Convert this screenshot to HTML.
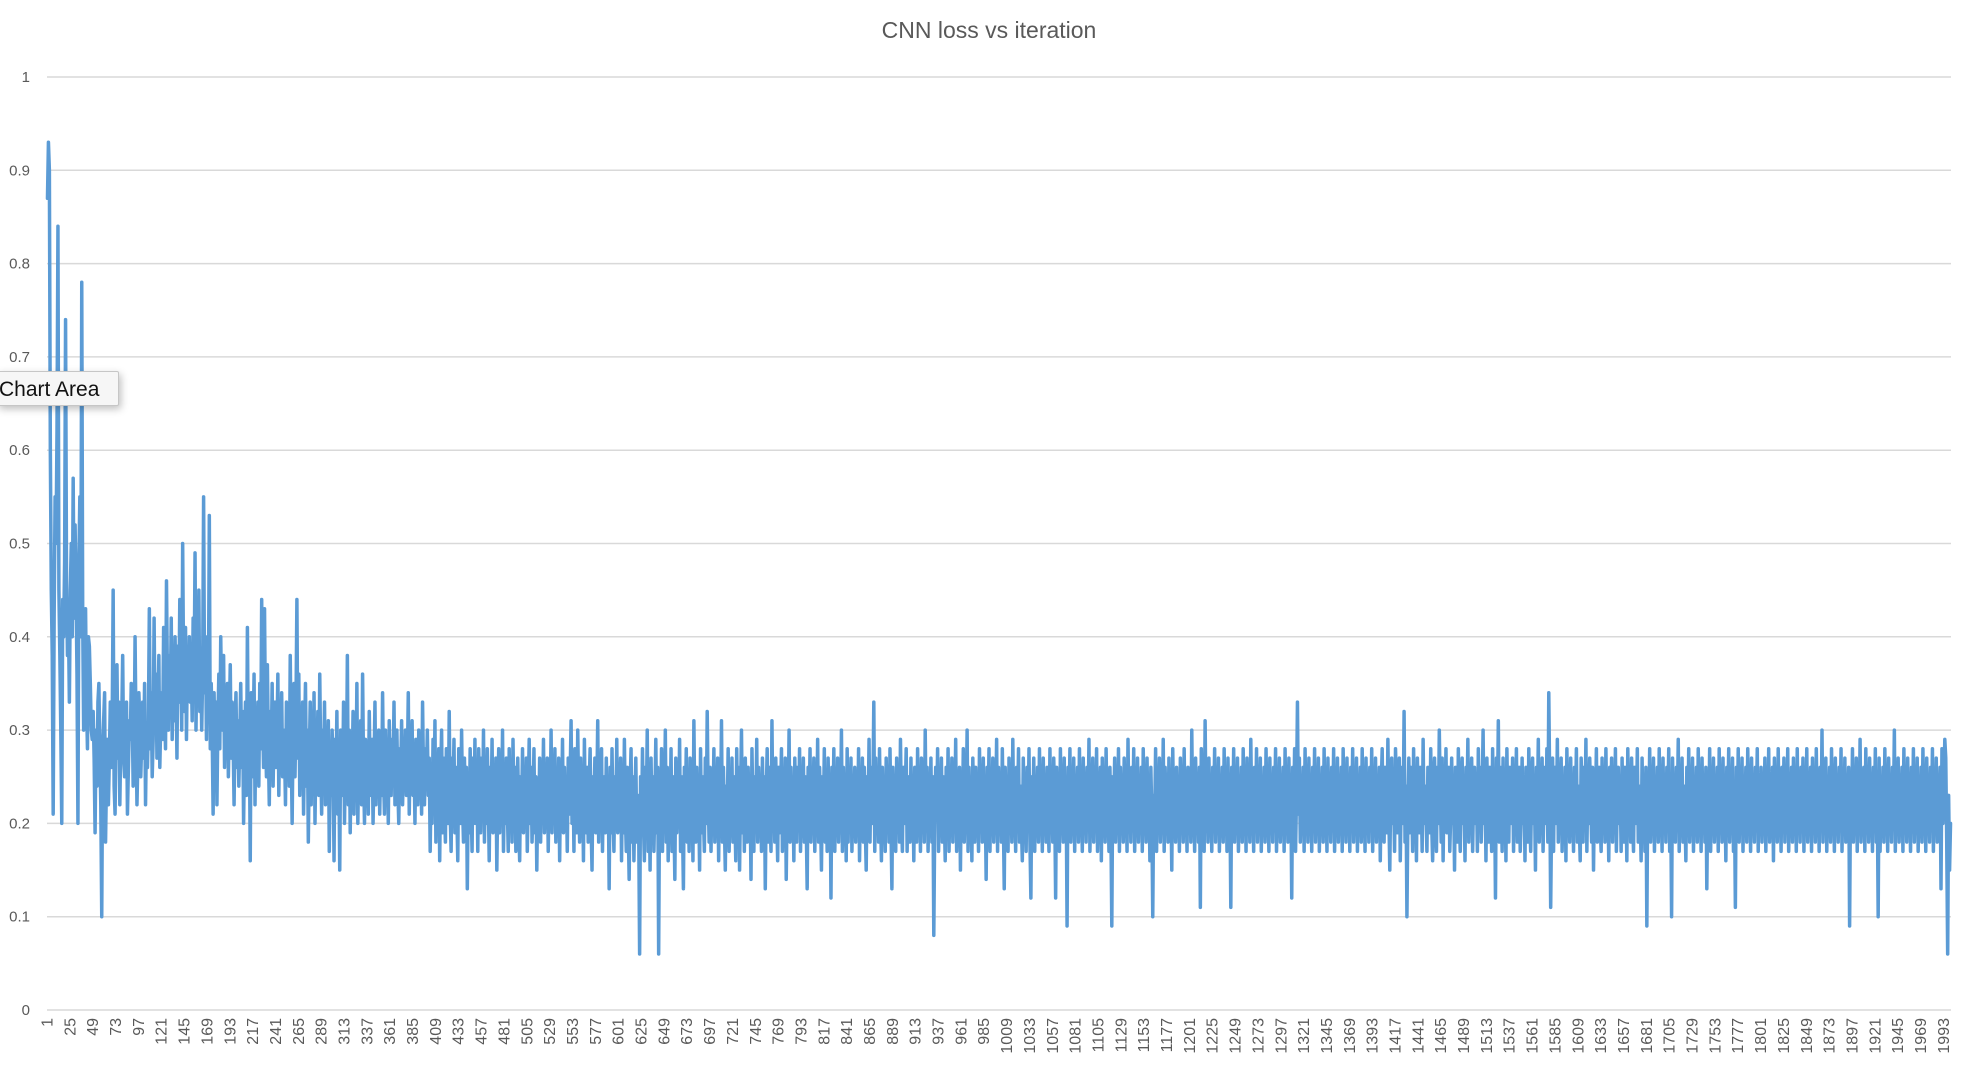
<!DOCTYPE html>
<html><head><meta charset="utf-8"><style>
html,body{margin:0;padding:0;background:#fff;width:1974px;height:1072px;overflow:hidden;font-family:"Liberation Sans",sans-serif}
#tip{position:absolute;left:-3px;top:371px;width:122px;height:35px;background:#f6f6f6;border:1px solid #c6c6c6;border-radius:2px;box-shadow:2px 3px 8px rgba(0,0,0,.25);font-size:21px;line-height:35px;color:#111;padding-left:1px;box-sizing:border-box}
</style></head><body>
<svg id="chart" width="1974" height="1072" xmlns="http://www.w3.org/2000/svg" style="position:absolute;left:0;top:0">
<text x="989" y="38" text-anchor="middle" font-size="23" fill="#595959" font-family="Liberation Sans, sans-serif">CNN loss vs iteration</text>
<g id="grid"></g>
<g id="yticks"></g>
<g id="xticks"></g>
<g id="series"></g>
</svg>
<div id="tip">Chart Area</div>
<script>
const yTicks=[0,0.1,0.2,0.3,0.4,0.5,0.6,0.7,0.8,0.9,1];
const yTickLabels=["0","0.1","0.2","0.3","0.4","0.5","0.6","0.7","0.8","0.9","1"];
const lossValues=[
.87,.93,.90,.6,.45,.38,.21,.42,.55,.5,.62,.84,.45,.38,.3,.2,.44,.4,.48,.74,.46,.38,.42,.33,.45,.5,.4,.57,.42,.52,.45,.36,.2,.48,.55,.4,.78,.42,.3,.36,.43,.33,.28,.4,.39,.35,.3,.29,.32,.27,
.19,.3,.24,.33,.35,.28,.22,.1,.28,.31,.34,.18,.25,.29,.22,.27,.33,.26,.31,.45,.24,.21,.3,.37,.27,.33,.22,.29,.31,.38,.27,.25,.3,.33,.21,.26,.31,.29,.35,.32,.24,.28,.4,.3,.22,.27,.34,.31,.25,.29,
.33,.27,.35,.22,.3,.26,.31,.43,.28,.34,.25,.29,.42,.3,.36,.27,.32,.38,.26,.31,.34,.29,.41,.33,.28,.46,.35,.3,.38,.33,.42,.29,.36,.31,.4,.35,.27,.39,.33,.44,.37,.3,.5,.36,.32,.41,.29,.38,.34,.4,
.33,.37,.31,.42,.35,.49,.3,.39,.34,.45,.32,.38,.3,.36,.55,.34,.4,.29,.37,.33,.53,.28,.35,.3,.21,.34,.27,.33,.22,.31,.36,.28,.4,.32,.3,.38,.26,.33,.29,.35,.25,.31,.37,.27,.33,.29,.22,.3,.34,.26,
.31,.24,.29,.35,.26,.32,.2,.28,.33,.23,.41,.27,.3,.16,.34,.25,.29,.36,.22,.31,.27,.33,.24,.35,.28,.44,.31,.26,.43,.3,.25,.37,.28,.22,.32,.27,.35,.24,.3,.33,.26,.29,.36,.23,.31,.27,.34,.25,.3,.28,
.22,.33,.27,.31,.24,.38,.28,.2,.3,.35,.25,.32,.44,.27,.36,.23,.31,.26,.33,.21,.29,.35,.24,.3,.18,.27,.33,.22,.31,.26,.34,.2,.28,.25,.32,.23,.36,.27,.21,.3,.25,.33,.22,.28,.24,.31,.17,.27,.23,.3,
.26,.16,.29,.24,.32,.21,.27,.15,.3,.25,.23,.33,.2,.28,.24,.38,.22,.3,.19,.27,.25,.32,.21,.29,.24,.35,.2,.27,.23,.31,.22,.36,.26,.2,.29,.24,.27,.21,.32,.25,.23,.29,.2,.26,.33,.22,.28,.24,.3,.21,
.27,.23,.34,.25,.21,.3,.24,.28,.2,.31,.26,.23,.29,.25,.33,.22,.27,.3,.24,.2,.28,.25,.31,.22,.27,.24,.3,.23,.26,.34,.21,.28,.25,.31,.23,.27,.2,.29,.26,.22,.3,.24,.27,.21,.33,.25,.22,.28,.24,.3,
.23,.27,.17,.25,.2,.29,.22,.31,.18,.26,.21,.28,.16,.25,.3,.19,.27,.22,.18,.28,.24,.2,.32,.21,.17,.27,.23,.29,.19,.26,.21,.16,.28,.24,.2,.3,.22,.18,.27,.21,.26,.13,.24,.19,.28,.22,.17,.27,.2,.29,
.2,.26,.17,.28,.22,.19,.27,.21,.3,.18,.25,.2,.28,.23,.16,.26,.21,.29,.19,.25,.2,.27,.15,.23,.28,.19,.26,.21,.3,.17,.24,.2,.27,.22,.17,.28,.2,.25,.18,.29,.21,.26,.17,.23,.27,.2,.16,.25,.21,.28,
.19,.25,.2,.27,.17,.23,.29,.2,.26,.18,.22,.28,.19,.25,.15,.23,.2,.27,.18,.26,.21,.29,.19,.24,.2,.27,.17,.25,.21,.3,.19,.26,.2,.28,.18,.24,.2,.27,.16,.25,.21,.29,.19,.26,.2,.24,.17,.27,.21,.25,
.31,.2,.26,.17,.28,.21,.19,.3,.23,.18,.27,.2,.25,.16,.29,.21,.19,.26,.18,.24,.28,.2,.15,.25,.21,.27,.19,.23,.31,.18,.26,.2,.28,.17,.25,.21,.19,.27,.2,.24,.13,.26,.19,.28,.21,.17,.25,.2,.29,.19,
.23,.2,.27,.16,.25,.19,.29,.21,.17,.26,.2,.14,.24,.28,.18,.25,.16,.22,.27,.18,.23,.2,.06,.25,.19,.28,.2,.16,.26,.21,.3,.17,.23,.15,.27,.2,.25,.17,.22,.29,.19,.26,.06,.24,.2,.28,.17,.25,.21,.3,
.18,.26,.16,.24,.2,.28,.17,.25,.21,.14,.27,.19,.23,.2,.29,.17,.25,.2,.13,.26,.21,.28,.18,.23,.17,.27,.2,.25,.16,.31,.21,.18,.26,.2,.23,.15,.28,.19,.25,.21,.17,.27,.2,.32,.23,.18,.26,.17,.24,.21,
.28,.18,.23,.2,.27,.16,.25,.21,.31,.18,.26,.2,.15,.24,.21,.28,.17,.23,.19,.27,.18,.25,.21,.16,.28,.2,.26,.15,.23,.3,.19,.25,.17,.27,.21,.18,.26,.2,.23,.14,.28,.21,.17,.25,.2,.29,.18,.26,.21,.23,
.17,.27,.2,.25,.13,.23,.28,.18,.26,.21,.17,.31,.2,.24,.18,.27,.21,.16,.26,.19,.23,.28,.17,.25,.2,.27,.14,.23,.21,.3,.18,.26,.2,.24,.16,.27,.21,.18,.26,.2,.28,.17,.23,.21,.27,.18,.25,.2,.13,.26,
.21,.28,.18,.24,.2,.27,.17,.23,.2,.29,.18,.26,.21,.15,.25,.2,.28,.18,.23,.17,.27,.21,.24,.12,.26,.2,.28,.17,.23,.2,.27,.18,.24,.21,.3,.17,.26,.2,.23,.16,.28,.18,.25,.2,.27,.17,.23,.21,.26,.18,
.24,.2,.28,.16,.23,.21,.27,.18,.26,.2,.15,.25,.21,.29,.18,.26,.2,.23,.33,.17,.27,.2,.24,.18,.28,.21,.16,.26,.2,.23,.17,.27,.21,.25,.18,.28,.2,.13,.26,.21,.23,.17,.27,.2,.25,.18,.29,.21,.17,.26,
.2,.23,.28,.17,.25,.21,.18,.27,.2,.24,.16,.26,.21,.18,.28,.2,.23,.17,.27,.21,.25,.18,.3,.2,.26,.17,.23,.21,.27,.18,.25,.08,.2,.26,.21,.28,.17,.23,.2,.27,.18,.25,.21,.16,.26,.2,.28,.17,.23,.21,
.27,.18,.24,.2,.29,.17,.23,.21,.26,.15,.25,.2,.28,.18,.23,.21,.3,.17,.26,.2,.24,.16,.27,.21,.18,.26,.2,.23,.17,.28,.21,.25,.18,.27,.2,.23,.14,.26,.21,.28,.17,.24,.2,.27,.18,.23,.21,.29,.17,.26,
.2,.24,.18,.28,.21,.13,.26,.2,.23,.17,.27,.21,.24,.18,.29,.2,.23,.17,.26,.21,.28,.18,.24,.2,.16,.27,.21,.23,.17,.26,.2,.28,.18,.12,.25,.21,.27,.17,.23,.2,.26,.18,.28,.21,.24,.17,.27,.2,.23,.18,
.26,.21,.17,.28,.2,.24,.18,.27,.22,.12,.26,.2,.24,.17,.28,.21,.23,.18,.27,.2,.24,.09,.26,.21,.28,.18,.23,.2,.27,.17,.25,.21,.26,.18,.28,.2,.23,.17,.27,.21,.24,.18,.26,.2,.29,.17,.23,.21,.27,.18,
.25,.2,.28,.17,.23,.21,.26,.16,.27,.2,.24,.18,.28,.21,.23,.17,.26,.2,.09,.25,.21,.27,.18,.23,.2,.28,.17,.26,.21,.24,.18,.27,.2,.23,.17,.29,.21,.24,.18,.26,.2,.28,.17,.23,.21,.27,.18,.25,.2,.26,
.17,.28,.21,.23,.18,.27,.2,.24,.16,.26,.21,.1,.23,.2,.28,.17,.25,.21,.27,.18,.23,.2,.29,.17,.26,.21,.24,.18,.27,.2,.23,.15,.28,.21,.24,.18,.26,.2,.23,.17,.27,.21,.24,.18,.28,.2,.23,.17,.26,.21,
.25,.18,.3,.2,.23,.17,.27,.21,.24,.18,.26,.11,.28,.2,.23,.17,.31,.21,.24,.18,.27,.2,.23,.17,.26,.21,.28,.18,.24,.2,.27,.17,.23,.21,.26,.18,.28,.2,.24,.17,.27,.21,.23,.11,.26,.2,.28,.18,.24,.21,
.27,.17,.23,.2,.26,.18,.28,.21,.24,.17,.27,.2,.23,.18,.29,.21,.24,.17,.26,.2,.28,.18,.23,.21,.27,.17,.24,.2,.26,.18,.28,.21,.23,.17,.27,.2,.24,.18,.26,.21,.28,.17,.23,.2,.27,.18,.24,.21,.26,.17,
.28,.2,.23,.18,.27,.21,.24,.12,.26,.2,.28,.17,.23,.33,.21,.27,.18,.24,.2,.26,.17,.28,.21,.23,.18,.27,.2,.24,.17,.26,.21,.28,.18,.23,.2,.27,.17,.24,.21,.26,.18,.28,.2,.23,.17,.27,.21,.24,.18,.26,
.2,.28,.17,.23,.21,.27,.18,.24,.2,.26,.17,.28,.21,.23,.18,.27,.2,.24,.17,.26,.21,.28,.18,.23,.2,.27,.17,.24,.21,.26,.18,.28,.2,.23,.17,.27,.21,.24,.18,.26,.2,.28,.17,.23,.21,.27,.18,.24,.2,.26,
.16,.24,.28,.2,.18,.26,.23,.19,.29,.21,.15,.24,.27,.2,.23,.17,.28,.24,.19,.21,.27,.16,.23,.26,.2,.32,.18,.24,.1,.21,.27,.19,.26,.23,.17,.28,.2,.24,.16,.27,.21,.19,.26,.23,.17,.29,.2,.24,.21,.17,
.26,.23,.19,.28,.2,.16,.24,.27,.21,.17,.26,.2,.3,.23,.18,.27,.16,.24,.21,.28,.19,.23,.26,.17,.21,.27,.2,.24,.15,.26,.23,.18,.28,.21,.17,.24,.27,.2,.23,.16,.26,.21,.29,.18,.24,.2,.27,.17,.23,.26,
.2,.24,.17,.28,.21,.26,.18,.23,.3,.2,.24,.16,.27,.21,.18,.26,.23,.17,.28,.2,.24,.12,.27,.21,.31,.18,.26,.23,.17,.27,.2,.24,.16,.28,.21,.18,.26,.23,.2,.27,.17,.24,.21,.28,.18,.23,.26,.17,.21,.27,
.2,.24,.16,.26,.23,.18,.28,.21,.17,.24,.27,.2,.23,.15,.26,.21,.29,.18,.24,.2,.27,.17,.23,.26,.2,.28,.18,.34,.24,.11,.21,.27,.17,.26,.23,.2,.29,.18,.24,.21,.27,.17,.23,.2,.26,.16,.28,.21,.24,.18,
.27,.2,.23,.17,.26,.21,.28,.18,.24,.2,.16,.27,.23,.18,.26,.21,.29,.17,.24,.2,.27,.23,.18,.26,.15,.24,.21,.28,.18,.23,.26,.2,.17,.27,.21,.24,.18,.28,.2,.23,.16,.26,.21,.27,.18,.24,.2,.28,.17,.23,
.26,.2,.24,.17,.27,.21,.18,.26,.23,.16,.28,.2,.24,.18,.27,.21,.17,.26,.23,.2,.28,.18,.24,.21,.16,.27,.2,.23,.17,.26,.09,.24,.2,.28,.18,.23,.21,.27,.17,.24,.2,.26,.18,.28,.21,.23,.17,.27,.2,.24,
.18,.26,.21,.28,.17,.23,.1,.27,.2,.24,.18,.26,.21,.29,.17,.23,.2,.27,.18,.24,.21,.16,.26,.2,.28,.18,.23,.21,.27,.17,.24,.2,.26,.18,.28,.21,.23,.17,.27,.2,.24,.18,.26,.13,.23,.2,.28,.17,.24,.21,
.27,.18,.23,.2,.26,.17,.28,.21,.24,.18,.27,.2,.23,.16,.26,.21,.28,.18,.24,.2,.27,.17,.23,.11,.26,.2,.28,.18,.24,.21,.27,.17,.23,.2,.26,.18,.28,.21,.24,.17,.27,.2,.23,.18,.26,.21,.28,.17,.24,.2,
.26,.18,.23,.21,.27,.17,.24,.2,.28,.18,.23,.21,.26,.16,.27,.2,.24,.18,.28,.21,.23,.17,.26,.2,.27,.18,.24,.21,.28,.17,.23,.2,.26,.18,.27,.21,.24,.17,.28,.2,.23,.18,.26,.21,.27,.17,.24,.2,.28,.18,
.23,.21,.26,.17,.27,.2,.24,.18,.28,.21,.23,.17,.26,.2,.3,.18,.24,.21,.27,.17,.23,.2,.26,.18,.28,.21,.24,.17,.27,.2,.23,.18,.26,.21,.28,.17,.24,.2,.27,.18,.23,.21,.26,.09,.24,.2,.28,.18,.23,.21,
.27,.17,.24,.2,.29,.18,.23,.21,.26,.17,.28,.2,.24,.18,.27,.21,.23,.17,.26,.2,.28,.18,.24,.1,.27,.17,.23,.2,.26,.18,.28,.21,.24,.17,.27,.2,.23,.18,.26,.21,.3,.17,.24,.2,.27,.18,.23,.21,.26,.17,
.28,.2,.24,.18,.27,.21,.23,.17,.26,.2,.28,.18,.24,.21,.27,.17,.23,.2,.26,.18,.28,.21,.24,.17,.27,.2,.23,.18,.26,.21,.28,.17,.24,.2,.27,.18,.23,.21,.26,.13,.28,.2,.24,.29,.27,.18,.06,.23,.15,.2
];
const tickStep=24;
const NS="http://www.w3.org/2000/svg";
const L=47,R=1951,T=77,B=1010;
const N=lossValues.length;
const categories=lossValues.map((v,i)=>i+1);
function xPos(i){return L+(i+0.5)*(R-L)/N;}
function yPos(v){return B-(v-yTicks[0])/(yTicks[yTicks.length-1]-yTicks[0])*(B-T);}
const grid=document.getElementById('grid'),yt=document.getElementById('yticks'),xt=document.getElementById('xticks'),ser=document.getElementById('series');
yTicks.forEach((t,k)=>{
  const y=yPos(t);
  const ln=document.createElementNS(NS,'line');
  
  
  ln.setAttribute('x1',L);ln.setAttribute('x2',R);ln.setAttribute('y1',y);ln.setAttribute('y2',y);
  ln.setAttribute('stroke','#d9d9d9');ln.setAttribute('stroke-width','1.5');
  grid.appendChild(ln);
  const tx=document.createElementNS(NS,'text');
  
  
  tx.setAttribute('x',30);tx.setAttribute('y',y+5);tx.setAttribute('text-anchor','end');
  tx.setAttribute('font-size','15');tx.setAttribute('fill','#595959');tx.setAttribute('font-family','Liberation Sans, sans-serif');
  tx.textContent=yTickLabels[k];
  yt.appendChild(tx);
});
for(let i=0;i<N;i+=tickStep){
  const x=xPos(i);
  const tx=document.createElementNS(NS,'text');
  
  
  tx.setAttribute('transform','translate('+(x+5)+',1018) rotate(-90)');
  tx.setAttribute('text-anchor','end');
  tx.setAttribute('font-size','16');tx.setAttribute('fill','#595959');tx.setAttribute('font-family','Liberation Sans, sans-serif');
  tx.textContent=String(categories[i]);
  xt.appendChild(tx);
}
let d='';
lossValues.forEach((v,i)=>{d+=(i?'L':'M')+xPos(i).toFixed(2)+' '+yPos(v).toFixed(2);});
const p=document.createElementNS(NS,'path');


p.setAttribute('d',d);p.setAttribute('fill','none');p.setAttribute('stroke','#5b9bd5');
p.setAttribute('stroke-width','3.5');p.setAttribute('stroke-linejoin','round');p.setAttribute('stroke-linecap','round');
ser.appendChild(p);
</script>
</body></html>
